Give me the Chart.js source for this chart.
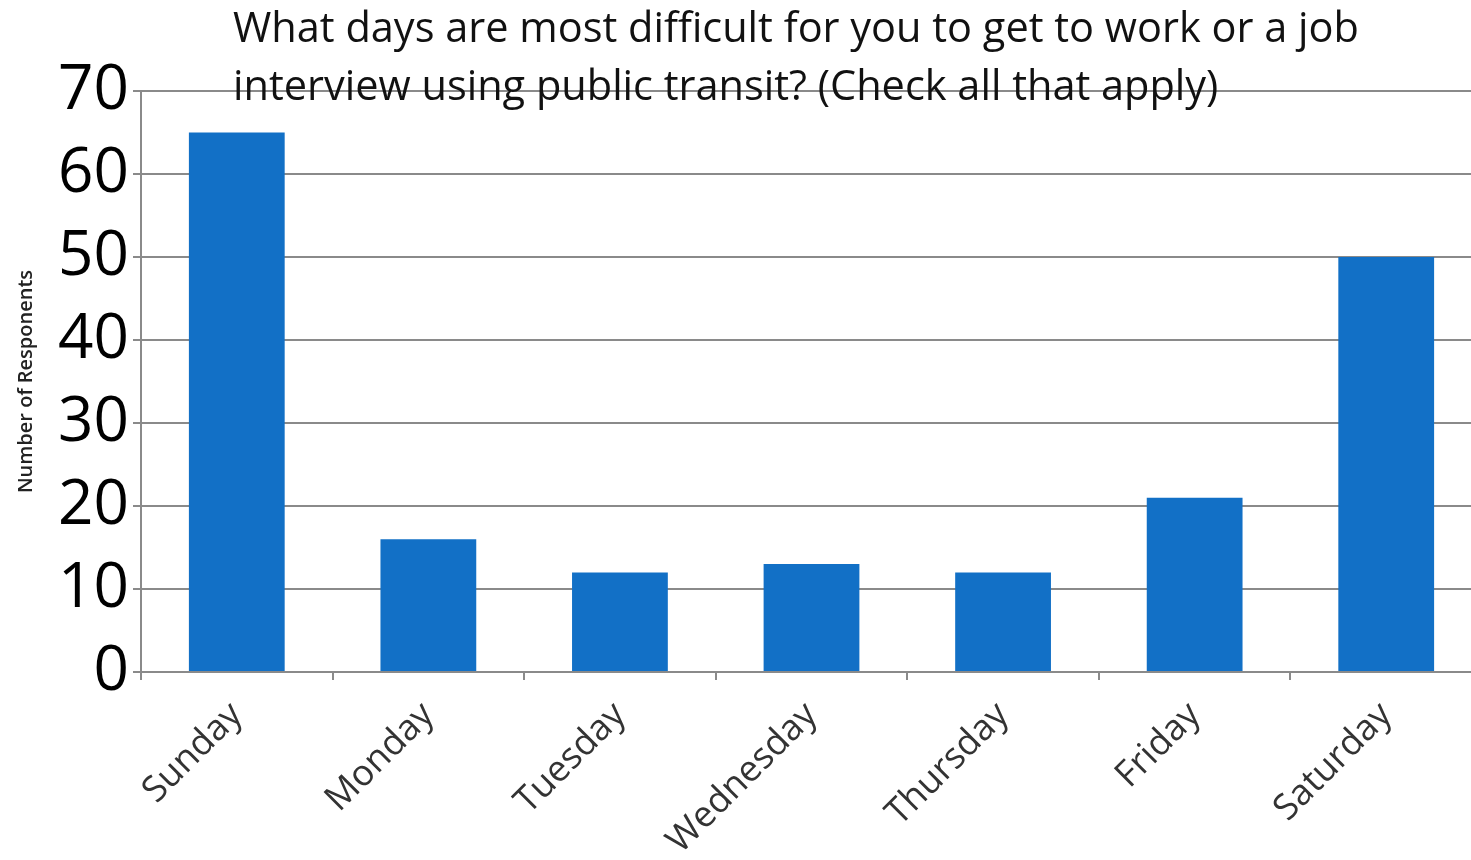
<!DOCTYPE html>
<html lang="en">
<head>
  <meta charset="UTF-8">
  <title>Difficult days for public transit</title>
  <script src="https://cdn.jsdelivr.net/npm/chart.js"></script>
  <style>
    body { margin: 0; overflow: hidden; background: #fff; }
    #wrap { width: 1490px; height: 860px; }
  </style>
</head>
<body>
  <div id="wrap"><canvas id="myChart" width="1490" height="860"></canvas></div>

  <script>
    // data
    const days = ["Sunday", "Monday", "Tuesday", "Wednesday", "Thursday", "Friday", "Saturday"];
    const responses = [65, 16, 12, 13, 12, 21, 50];
    const yTicks = [0, 10, 20, 30, 40, 50, 60, 70];
    const titleLines = [
      "What days are most difficult for you to get to work or a job",
      "interview using public transit? (Check all that apply)"
    ];

    const gridGrey = "#8a8a8a";

    // title sits over the plot in the original, so draw it last
    const overlayTitle = {
      id: "overlayTitle",
      afterDraw(chart) {
        const ctx = chart.ctx;
        ctx.save();
        ctx.font = "41.5px 'Open Sans'";
        ctx.fillStyle = "#111";
        ctx.textAlign = "left";
        ctx.textBaseline = "alphabetic";
        ctx.fillText(titleLines[0], 233, 42);
        ctx.fillText(titleLines[1], 233, 100);
        ctx.restore();
      }
    };

    new Chart(document.getElementById("myChart"), {
      type: "bar",
      data: {
        labels: days,
        datasets: [{
          label: "Number of Responents",
          data: responses,
          backgroundColor: "#1270c6",
          categoryPercentage: 1,
          barPercentage: 0.5
        }]
      },
      options: {
        responsive: false,
        animation: false,
        layout: { padding: { top: 91, right: 8, left: 0, bottom: 0 } },
        plugins: { legend: { display: false }, tooltip: { enabled: false } },
        scales: {
          x: {
            grid: { drawOnChartArea: false, drawTicks: true, tickLength: 8, color: gridGrey, lineWidth: 2 },
            border: { color: gridGrey, width: 2 },
            ticks: {
              autoSkip: false, maxRotation: 45, minRotation: 45,
              color: "#333", font: { family: "'Open Sans'", size: 36 }, padding: 14
            },
            afterFit(scale) { scale.height = 188; }
          },
          y: {
            min: 0, max: 70,
            afterBuildTicks(scale) { scale.ticks = yTicks.map(v => ({ value: v })); },
            grid: { color: gridGrey, lineWidth: 2, tickLength: 8 },
            border: { color: gridGrey, width: 2 },
            ticks: { color: "#000", font: { family: "'Open Sans'", size: 62 }, padding: 4 },
            title: {
              display: true, text: "Number of Responents", color: "#222",
              font: { family: "'Open Sans'", size: 20, weight: "600" }, padding: { top: 14, bottom: 0 }
            },
            afterFit(scale) { scale.width = 141; }
          }
        }
      },
      plugins: [overlayTitle]
    });
  </script>
</body>
</html>
